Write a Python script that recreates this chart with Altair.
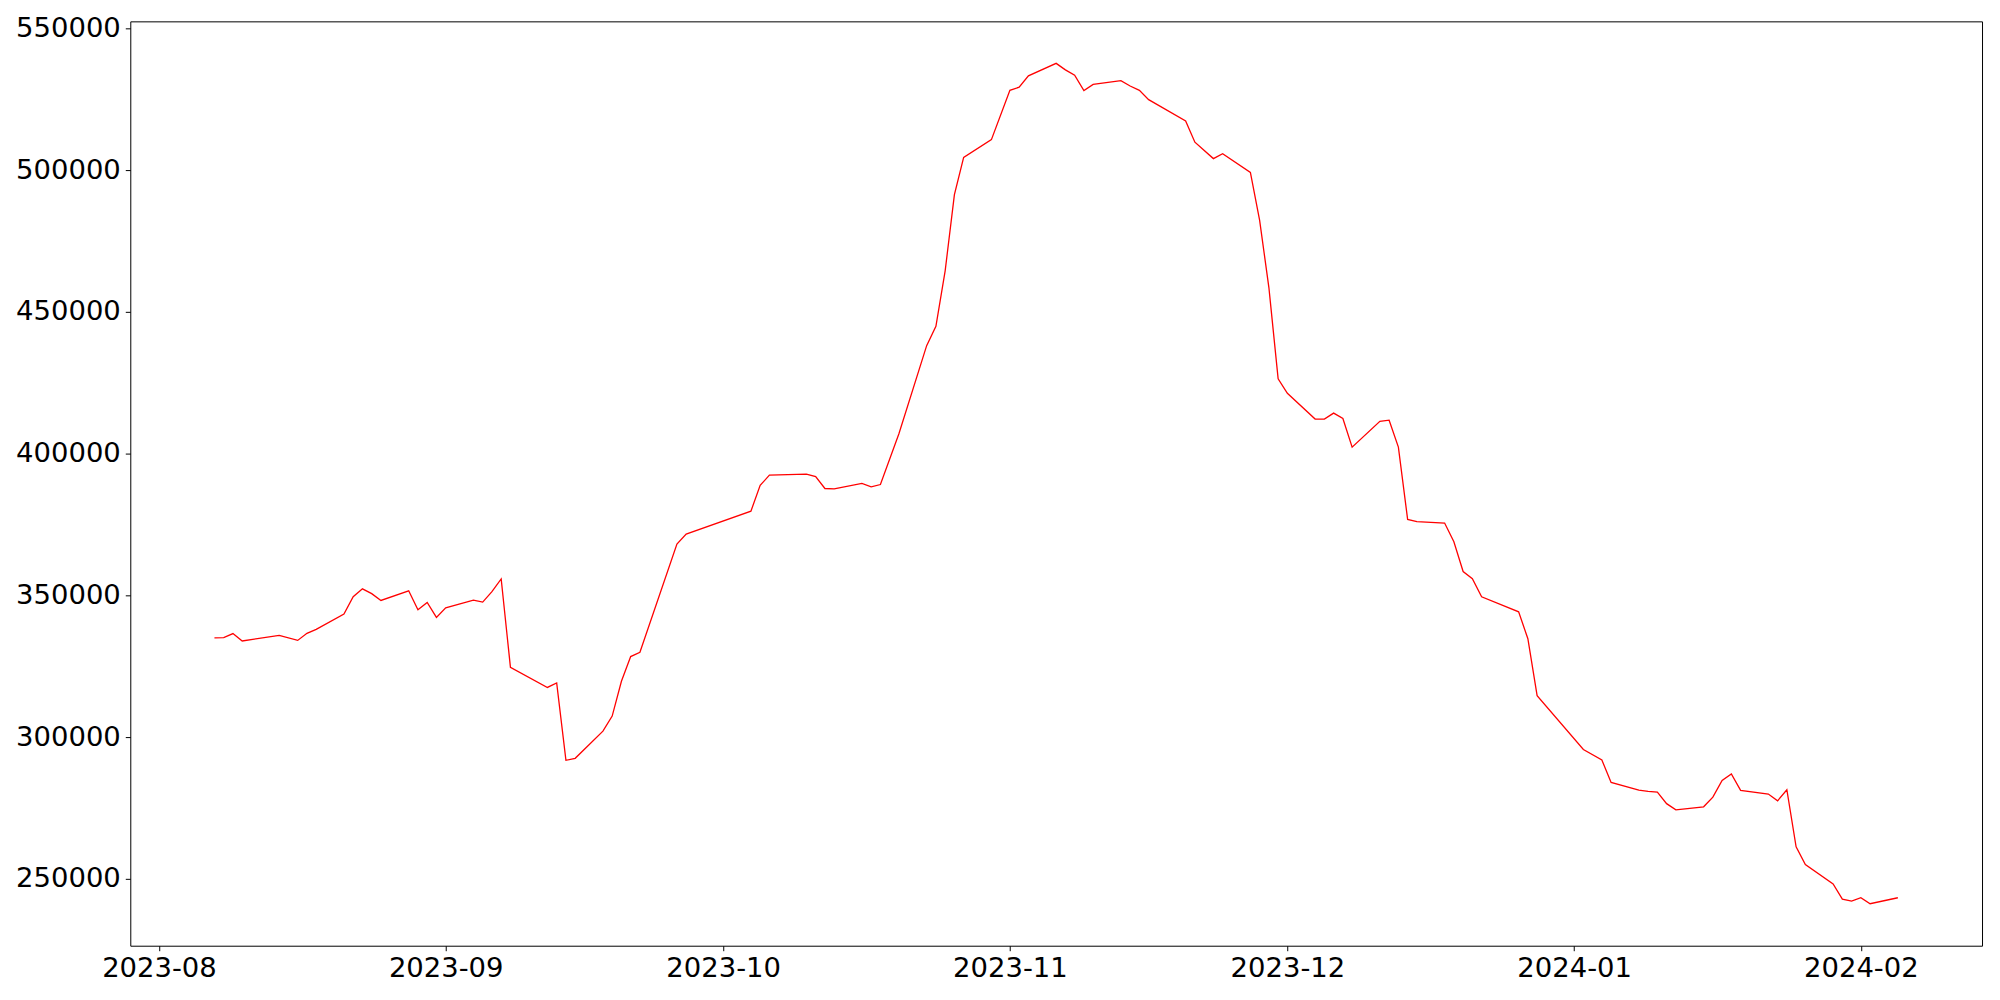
import altair as alt
import pandas as pd

dates = [
    "2023-08-07", "2023-08-08", "2023-08-09", "2023-08-10", "2023-08-14", "2023-08-16", "2023-08-17", "2023-08-18",
    "2023-08-21", "2023-08-22", "2023-08-23", "2023-08-24", "2023-08-25",
    "2023-08-28", "2023-08-29", "2023-08-30", "2023-08-31", "2023-09-01",
    "2023-09-04", "2023-09-05", "2023-09-06", "2023-09-07", "2023-09-08",
    "2023-09-12", "2023-09-13", "2023-09-14", "2023-09-15",
    "2023-09-18", "2023-09-19", "2023-09-20", "2023-09-21", "2023-09-22",
    "2023-09-26", "2023-09-27",
    "2023-10-04", "2023-10-05", "2023-10-06",
    "2023-10-10", "2023-10-11", "2023-10-12", "2023-10-13",
    "2023-10-16", "2023-10-17", "2023-10-18", "2023-10-20",
    "2023-10-23", "2023-10-24", "2023-10-25", "2023-10-26", "2023-10-27",
    "2023-10-30", "2023-11-01", "2023-11-02", "2023-11-03",
    "2023-11-06", "2023-11-07", "2023-11-08", "2023-11-09", "2023-11-10",
    "2023-11-13", "2023-11-14", "2023-11-15", "2023-11-16",
    "2023-11-20", "2023-11-21", "2023-11-23", "2023-11-24",
    "2023-11-27", "2023-11-28", "2023-11-29", "2023-11-30", "2023-12-01",
    "2023-12-04", "2023-12-05", "2023-12-06", "2023-12-07", "2023-12-08",
    "2023-12-11", "2023-12-12", "2023-12-13", "2023-12-14", "2023-12-15",
    "2023-12-18", "2023-12-19", "2023-12-20", "2023-12-21", "2023-12-22",
    "2023-12-26", "2023-12-27", "2023-12-28",
    "2024-01-02", "2024-01-04", "2024-01-05",
    "2024-01-08", "2024-01-09", "2024-01-10", "2024-01-11", "2024-01-12",
    "2024-01-15", "2024-01-16", "2024-01-17", "2024-01-18", "2024-01-19",
    "2024-01-22", "2024-01-23", "2024-01-24", "2024-01-25", "2024-01-26",
    "2024-01-29", "2024-01-30", "2024-01-31", "2024-02-01", "2024-02-02",
    "2024-02-05",
]

values = [
    335000, 335100, 336500, 333900, 335900, 334100, 336600, 338000,
    343400, 349500, 352300, 350600, 348200,
    351600, 344900, 347500, 342200, 345600,
    348300, 347600, 351300, 355800, 324600,
    317500, 319100, 291800, 292500,
    302100, 307400, 319700, 328400, 329900,
    368100, 371600,
    379700, 388800, 392400,
    392800, 391900, 387700, 387600,
    389500, 388300, 389100, 407000,
    438100, 444900, 464500, 491400, 504500,
    510800, 528200, 529300, 533300,
    537700, 535400, 533500, 528100, 530300,
    531600, 529700, 528200, 524900,
    517400, 509900, 504100, 505800,
    499200, 482300, 458600, 426400, 421300,
    412200, 412200, 414300, 412400, 402300,
    411400, 411800, 402300, 376800, 376000,
    375500, 368900, 358400, 355900, 349500,
    344200, 334700, 314600,
    295600, 291900, 284000,
    281300, 280800, 280600, 276500, 274300,
    275400, 278800, 284700, 287000, 281200,
    279900, 277500, 281400, 261300, 255000,
    248200, 242800, 242100, 243300, 241200,
    243300,
]

y_ticks = [250000, 300000, 350000, 400000, 450000, 500000, 550000]
x_tick_months = [(2023, 8), (2023, 9), (2023, 10), (2023, 11), (2023, 12), (2024, 1), (2024, 2)]

df = pd.DataFrame({"date": dates, "value": values})

# matplotlib-like 5% margins
t = pd.to_datetime(pd.Series(dates))
span = t.max() - t.min()
x0 = t.min() - span * 0.05
x1 = t.max() + span * 0.05
x_domain = [int(x0.value // 10**6), int(x1.value // 10**6)]
vspan = max(values) - min(values)
y_domain = [min(values) - 0.05 * vspan, max(values) + 0.05 * vspan]

x_vals = [alt.DateTime(year=y, month=m, date=1, utc=True) for y, m in x_tick_months]

FONT = "DejaVu Sans"
FS = 27.5

chart = (
    alt.Chart(df)
    .mark_line(color="#ff0000", strokeWidth=1.3)
    .encode(
        x=alt.X(
            "date:T",
            scale=alt.Scale(type="utc", domain=x_domain, nice=False),
            axis=alt.Axis(
                title=None,
                values=x_vals,
                format="%Y-%m",
                grid=False,
                domain=False,
                tickColor="black",
                tickSize=5,
                tickWidth=1,
                labelFont=FONT,
                labelFontSize=FS,
                labelColor="black",
                labelPadding=4,
                labelFlush=False,
                labelOverlap=False,
            ),
        ),
        y=alt.Y(
            "value:Q",
            scale=alt.Scale(domain=y_domain, nice=False, zero=False),
            axis=alt.Axis(
                title=None,
                values=y_ticks,
                format="d",
                grid=False,
                domain=False,
                tickColor="black",
                tickSize=5,
                tickWidth=1,
                labelFont=FONT,
                labelFontSize=FS,
                labelColor="black",
                labelPadding=5,
                labelFlush=False,
                labelOverlap=False,
            ),
        ),
    )
    .properties(
        width=1855,
        height=926,
        background="white",
        autosize=alt.AutoSizeParams(type="none"),
        padding={"left": 122.5, "top": 12.5, "right": 10, "bottom": 50},
    )
    .configure_view(stroke="#000000", strokeWidth=1, strokeOpacity=1)
)

chart.save("out.html", embed_options={"renderer": "svg", "actions": False})
